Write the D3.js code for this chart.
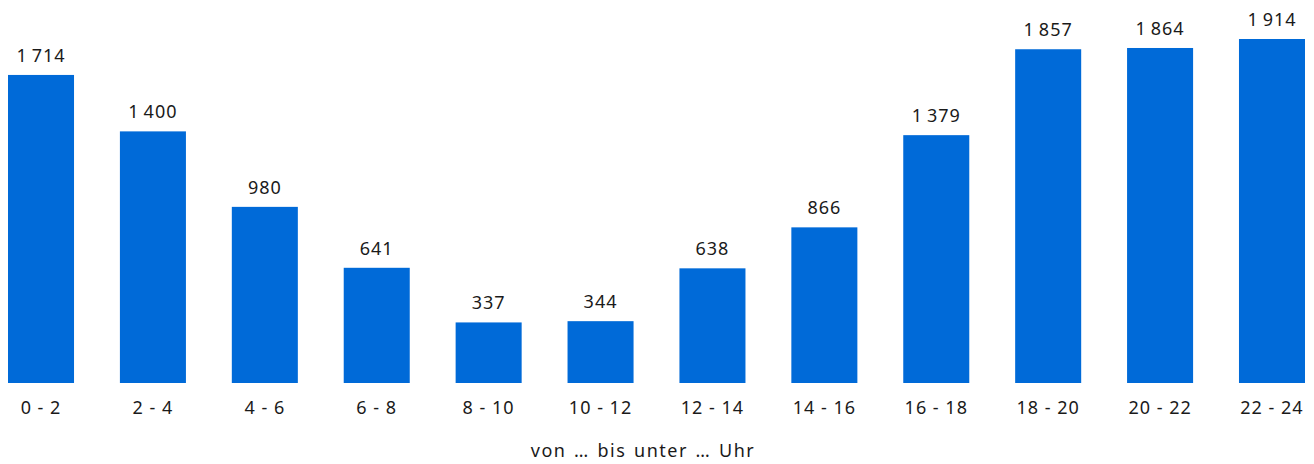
<!DOCTYPE html>
<meta charset="utf-8">
<script src="https://d3js.org/d3.v7.min.js"></script>
<style>
  body { margin: 0; background: #fff; }
  text { font-family: "Noto Sans", "Open Sans", sans-serif; fill: #1a1a1a; }
</style>
<div id="chart"></div>
<script>
// hours of the day, two-hour slots
var categories = ["0 - 2", "2 - 4", "4 - 6", "6 - 8", "8 - 10", "10 - 12",
                  "12 - 14", "14 - 16", "16 - 18", "18 - 20", "20 - 22", "22 - 24"];
var values = [1714, 1400, 980, 641, 337, 344, 638, 866, 1379, 1857, 1864, 1914];
var axisTitle = "von \u2026 bis unter \u2026 Uhr";

var W = 1314, H = 464;
var margin = {top: 39, right: 9, bottom: 81, left: 8},
    width = W - margin.left - margin.right,
    height = H - margin.top - margin.bottom;

// thin-space thousands separator, german style
function fmt(v) {
  return v.toString().replace(/\B(?=(\d{3})+(?!\d))/g, "\u2009");
}

var svg = d3.select("#chart")
  .append("svg")
    .attr("width", W)
    .attr("height", H)
  .append("g")
    .attr("transform", "translate(" + margin.left + "," + margin.top + ")");

var x = d3.scaleBand()
  .domain(categories)
  .range([0, width])
  .paddingInner(0.41)
  .paddingOuter(0);

var y = d3.scaleLinear()
  .domain([0, d3.max(values)])
  .range([height, 0]);

var data = categories.map(function(c, i) { return {cat: c, val: values[i]}; });

svg.selectAll("rect.bar")
  .data(data)
  .enter()
  .append("rect")
    .attr("class", "bar")
    .attr("x", function(d) { return x(d.cat); })
    .attr("y", function(d) { return y(d.val); })
    .attr("width", x.bandwidth())
    .attr("height", function(d) { return height - y(d.val); })
    .attr("fill", "#006ad8");

svg.selectAll("text.val")
  .data(data)
  .enter()
  .append("text")
    .attr("class", "val")
    .attr("x", function(d) { return x(d.cat) + x.bandwidth() / 2; })
    .attr("y", function(d) { return y(d.val) - 13; })
    .attr("text-anchor", "middle")
    .style("font-size", "18px")
    .style("letter-spacing", "1px")
    .text(function(d) { return fmt(d.val); });

// category axis, no line and no ticks
var xAxis = svg.append("g")
  .attr("transform", "translate(0," + height + ")")
  .call(d3.axisBottom(x).tickSize(0).tickPadding(0));
xAxis.select(".domain").remove();
xAxis.selectAll("text")
  .attr("y", 31)
  .attr("dy", null)
  .style("font-size", "18px")
  .style("letter-spacing", "1px")
  .style("font-family", null);

svg.append("text")
  .attr("x", 643 - margin.left)
  .attr("y", height + 74)
  .attr("text-anchor", "middle")
  .style("font-size", "18px")
  .style("letter-spacing", "1.5px")
  .style("word-spacing", "1.5px")
  .text(axisTitle);
</script>
